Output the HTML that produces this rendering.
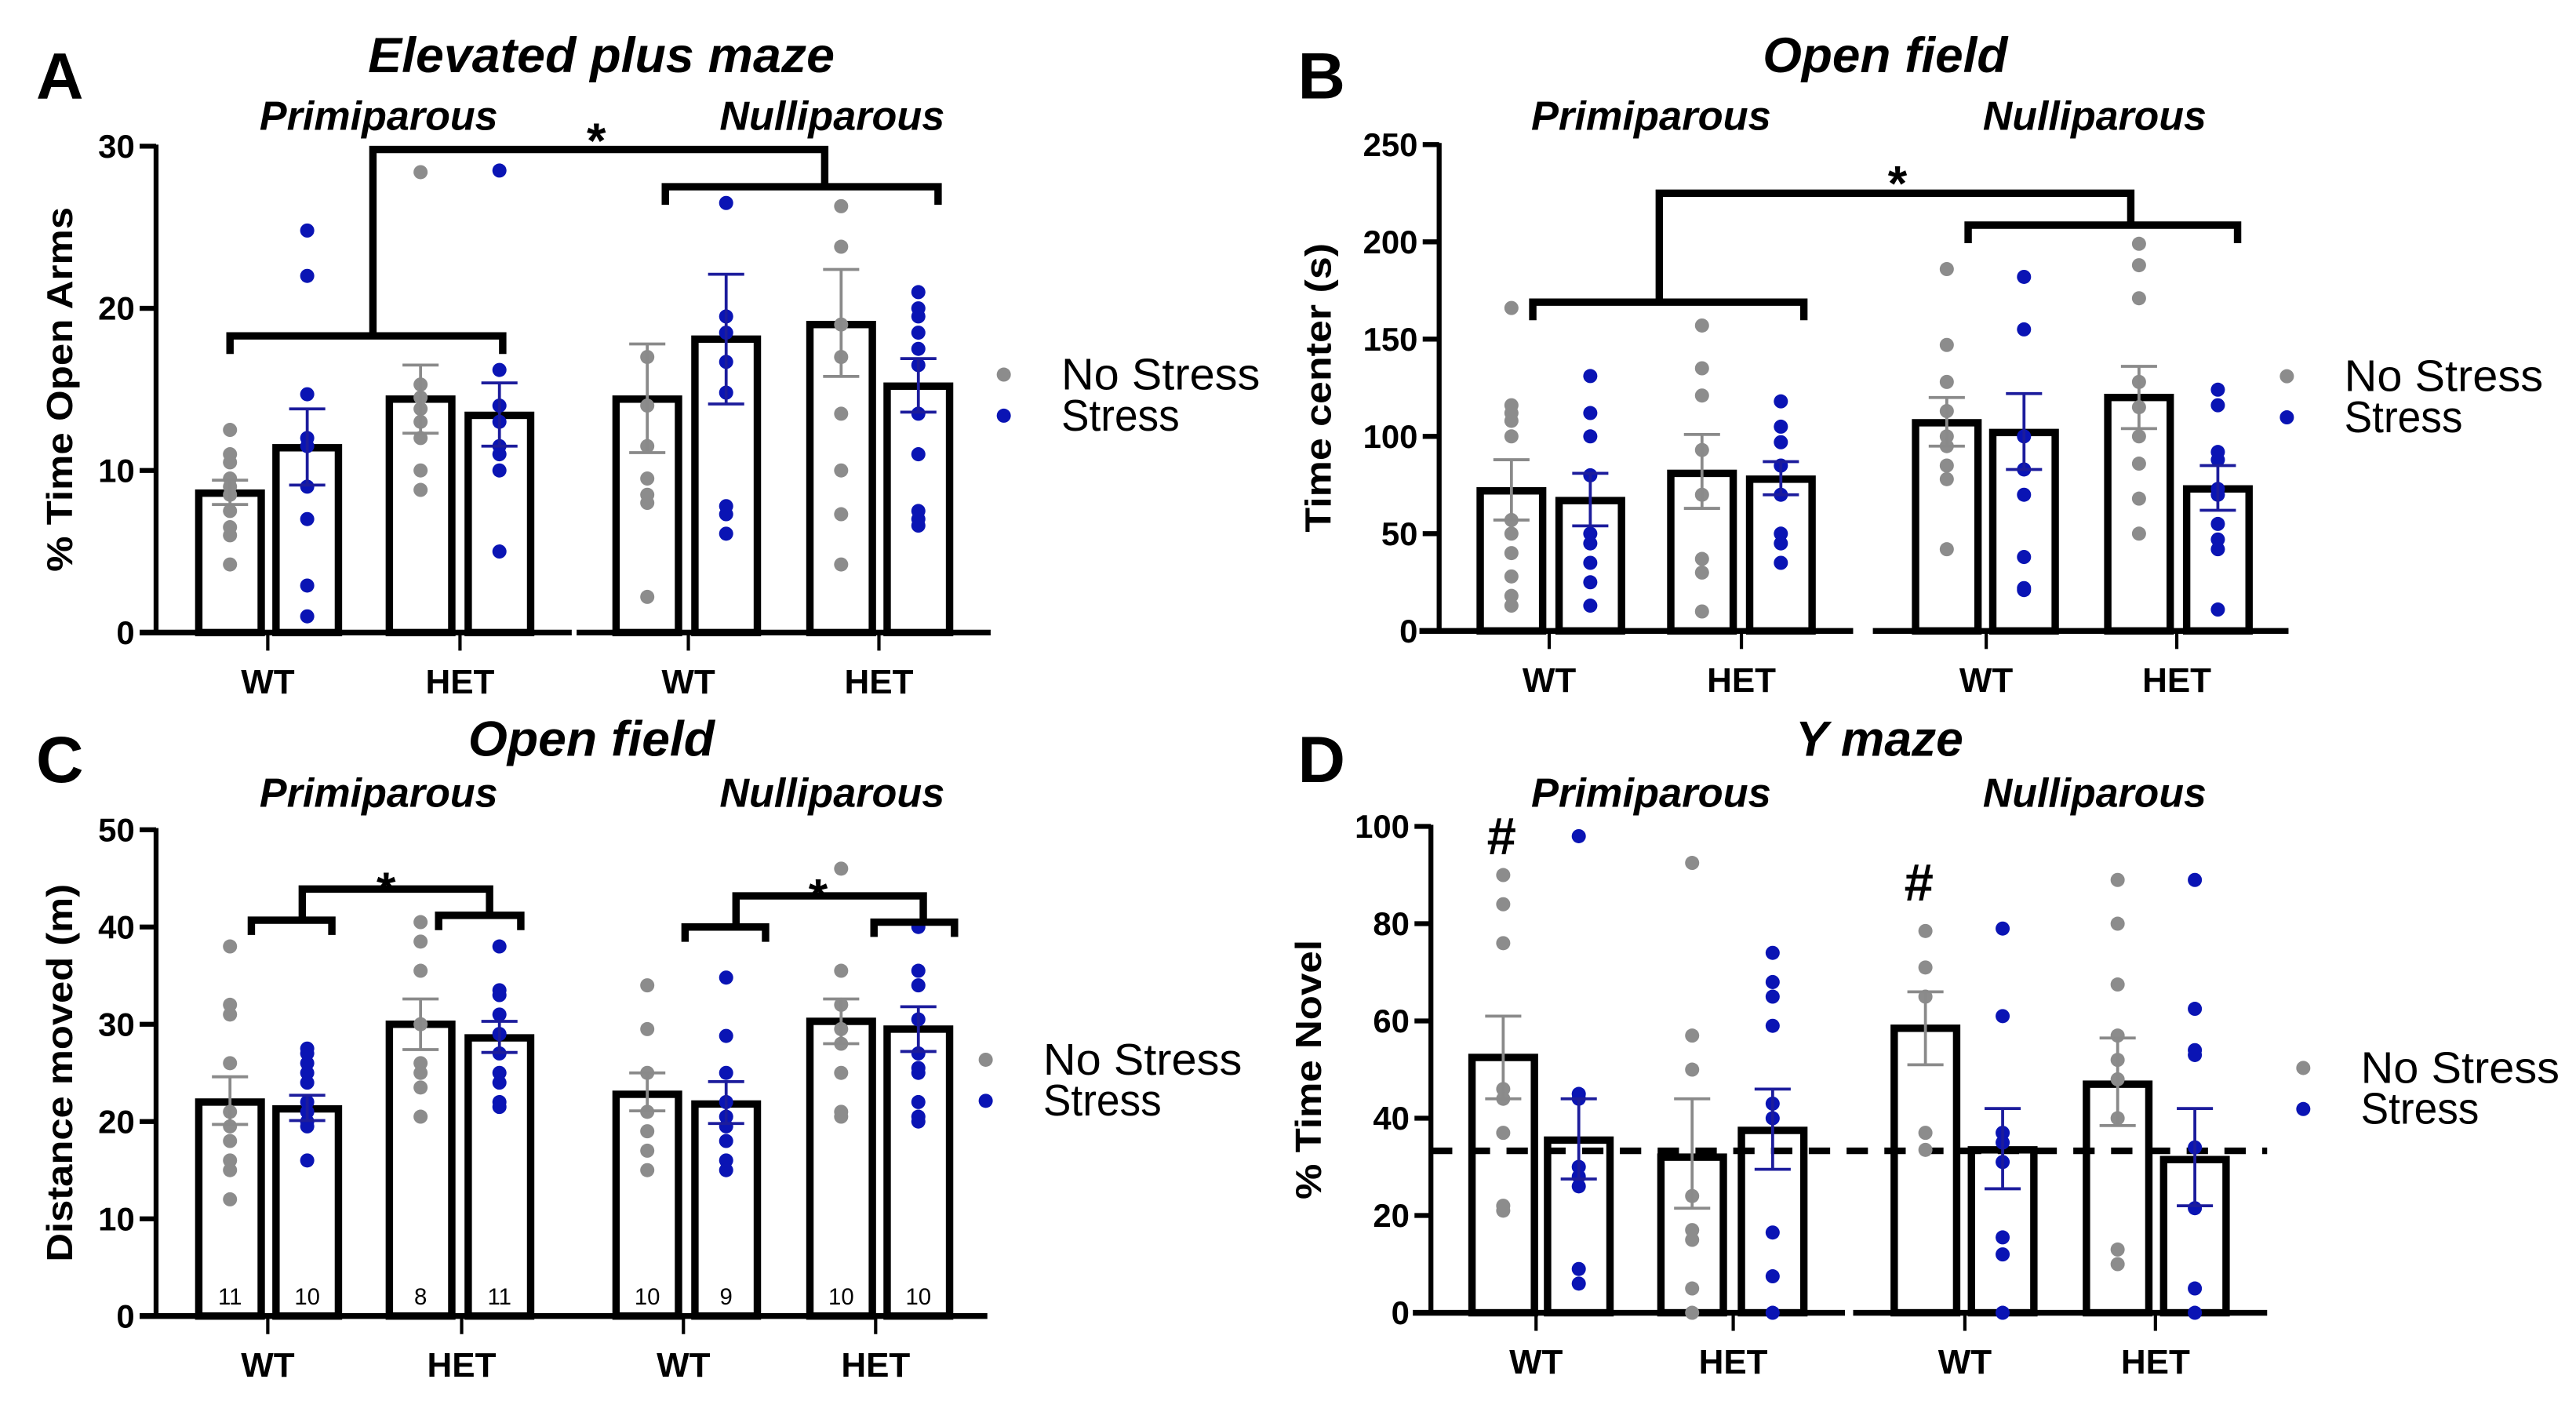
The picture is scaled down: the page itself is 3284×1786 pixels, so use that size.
<!DOCTYPE html>
<html><head><meta charset="utf-8"><title>Behavior panels</title>
<style>
html,body{margin:0;padding:0;background:#fff;}
svg{display:block;}
text{font-family:"Liberation Sans",Arial,sans-serif;}
</style></head>
<body>
<svg id="fig" xmlns="http://www.w3.org/2000/svg" width="3284" height="1786" viewBox="0 0 1568 852.7" preserveAspectRatio="none"></svg>
<script>
// ---------- data ----------
const groups = ["WT","HET","WT","HET"];
const conditions = ["No Stress","Stress"];
// Panel A: Elevated plus maze (% time open arms)
const aMeans = [8.6, 11.4, 14.4, 13.4, 14.4, 18.1, 19.0, 15.2];
const aErrLo = [7.9, 9.1, 12.3, 11.5, 11.1, 14.1, 15.8, 13.6];
const aErrHi = [9.4, 13.8, 16.5, 15.4, 17.8, 22.1, 22.4, 16.9];
const aDots = [
 [12.5,11,10.5,9.5,9,8.5,7.5,6.5,6,4.2],
 [24.8,22,14.7,12,11.5,9,7,2.9,1],
 [28.4,15.3,14.5,13.8,13,12,10,8.8],
 [28.5,16.2,14,13,11.5,11,10,5],
 [17,14,11.5,9.5,8.5,8,2.2],
 [26.5,19.5,18.5,16.7,14.8,7.8,7.3,6.1],
 [26.3,23.8,19,17,13.5,10,7.3,4.2],
 [21,20,19.5,18.5,17.5,16.5,13.5,11,7.5,7,6.6]];
const aTicks = [0,10,20,30];
// Panel B: Open field time center (s)
const bMeans = [72, 67, 81, 78, 107, 102, 120, 73];
const bErrLo = [57, 54, 63, 70, 95, 83, 104, 62];
const bErrHi = [88, 81, 101, 87, 120, 122, 136, 85];
const bDots = [
 [166,116,112,108,100,57,50,40,28,18,13],
 [131,112,100,80,50,45,35,25,13],
 [157,135,121,93,70,37,30,10],
 [118,105,97,85,70,50,45,35],
 [186,147,128,113,100,95,85,78,42],
 [182,155,100,83,70,38,22,21],
 [199,188,171,128,115,100,86,68,50],
 [124,116,92,88,73,70,55,47,42,11]];
const bTicks = [0,50,100,150,200,250];
// Panel C: Open field distance moved (m)
const cMeans = [22, 21.3, 30, 28.6, 22.8, 21.8, 30.3, 29.5];
const cErrLo = [19.7, 20.1, 27.4, 27.1, 21.1, 19.8, 28, 27.2];
const cErrHi = [24.6, 22.7, 32.6, 30.3, 25, 24.1, 32.6, 31.8];
const cDots = [
 [38,32,31,26,21,19.5,18,16,15,12],
 [27.5,27,26,25,24,22,21,20,19.5,16],
 [40.5,38.5,35.5,30,26,25,23.5,20.5],
 [38,33.5,33,31,29,27,25,24,22,21.5],
 [34,29.5,25,21,19,17,15],
 [34.8,28.8,25,22,20.5,19.5,18,16,15],
 [46,35.5,32,29.5,28,25,21,20.5],
 [40,35.5,34,30.5,27,25.5,25,22,20.5,20]];
const cN = ["11","10","8","11","10","9","10","10"];
const cTicks = [0,10,20,30,40,50];
// Panel D: Y maze % time novel
const dMeans = [52.5, 35.5, 32, 37.5, 58.5, 33.5, 47, 31.5];
const dErrLo = [44, 27.5, 21.5, 29.5, 51, 25.5, 38.5, 22];
const dErrHi = [61, 44, 44, 46, 66, 42, 56.5, 42];
const dDots = [
 [90,84,76,46,44,37,22,21],
 [98,45,44,30,28,26,9,6],
 [92.5,57,50,24,17,15,5,0],
 [74,68,65,59,43,40,16.5,7.5,0],
 [78.5,71,65,37,33.5],
 [79,61,37,35,31,15.5,12,0],
 [89,80,67.5,57,52,48,40,13,10],
 [89,62.5,54,53,34,21.5,5,0]];
const dTicks = [0,20,40,60,80,100];
const dChance = 33.3;

// ---------- drawing ----------
const NS = "http://www.w3.org/2000/svg";
const svgRoot = document.getElementById("fig");
const GRAY = "#8c8c8c", BLUE = "#0a14b4";
function mk(tag, attrs, parent){
  const e = document.createElementNS(NS, tag);
  for (const k in attrs) e.setAttribute(k, attrs[k]);
  (parent||svgRoot).appendChild(e);
  return e;
}
function txt(s, attrs, parent){ const t = mk("text", attrs, parent); t.textContent = s; return t; }

function panel(cfg){
  const g = mk("g", {});
  
  
  const y = v => cfg.y0 - v * (cfg.y0 - cfg.yTop) / cfg.max;
  const L = txt(cfg.letter, {x:cfg.letterX, y:cfg.titleY+16, "font-size":40, "font-weight":"bold"}, g);
  
  
  const T = txt(cfg.title, {x:cfg.titleX, y:cfg.titleY, "font-size":30, "font-weight":"bold", "font-style":"italic", textLength:cfg.titleW, lengthAdjust:"spacingAndGlyphs"}, g);
  
  
  const p1 = txt("Primiparous", {x:cfg.subX[0], y:cfg.subY, "font-size":25, "font-weight":"bold", "font-style":"italic", textLength:cfg.subW[0], lengthAdjust:"spacingAndGlyphs"}, g);
  
  
  const p2 = txt("Nulliparous", {x:cfg.subX[1], y:cfg.subY, "font-size":25, "font-weight":"bold", "font-style":"italic", textLength:cfg.subW[1], lengthAdjust:"spacingAndGlyphs"}, g);
  
  
  const yc = (cfg.y0 + cfg.yTop)/2;
  const yt = txt(cfg.ylabel, {x:0, y:0, "font-size":22, "font-weight":"bold", "text-anchor":"middle", textLength:cfg.ylabW, lengthAdjust:"spacingAndGlyphs", transform:`translate(${cfg.ylabX},${yc}) rotate(-90)`}, g);
  
  
  const ax = mk("line", {x1:cfg.axX, y1:cfg.y0+1, x2:cfg.axX, y2:cfg.yTop-1, stroke:"#000","stroke-width":3}, g);
  
  
  cfg.ticks.forEach(t => {
    const tk = mk("line", {x1:cfg.axX-10, y1:y(t), x2:cfg.axX, y2:y(t), stroke:"#000","stroke-width":3}, g);
    
    
    const tl = txt(String(t), {x:cfg.axX-13, y:y(t)+7, "font-size":20, "font-weight":"bold", "text-anchor":"end"}, g);
    
    
  });
  cfg.xSeg.forEach(s => {
    const xl = mk("line", {x1:s[0], y1:cfg.y0, x2:s[1], y2:cfg.y0, stroke:"#000","stroke-width":3.5}, g);
    
    
  });
  cfg.means.forEach((m, i) => {
    const cx = cfg.bx[i], w = 38;
    const r = mk("rect", {x:cx-w/2, y:y(m), width:w, height:cfg.y0-y(m), fill:"#fff", stroke:"#000", "stroke-width":4.5}, g);
    
    
  });
  if (cfg.chance !== undefined) {
    const dl = mk("line", {x1:cfg.axX, y1:y(cfg.chance), x2:cfg.xSeg[1][1], y2:y(cfg.chance), stroke:"#000","stroke-width":4,"stroke-dasharray":"13 10"}, g);
    
    
  }
  cfg.dots.forEach((arr, i) => {
    const col = i%2 ? BLUE : GRAY;
    arr.forEach(v => {
      const c = mk("circle", {cx:cfg.bx[i], cy:y(v), r:4.3, fill:col}, g);
      
      
    });
    const ecol = i%2 ? "#1c1c9c" : "#8a8a8a";
    const eb = mk("path", {d:`M${cfg.bx[i]},${y(cfg.lo[i])}V${y(cfg.hi[i])}M${cfg.bx[i]-11},${y(cfg.lo[i])}h22M${cfg.bx[i]-11},${y(cfg.hi[i])}h22`, stroke:ecol, "stroke-width":1.8, fill:"none"}, g);
    
    
  });
  cfg.xt.forEach((x, i) => {
    const tm = mk("line", {x1:x, y1:cfg.y0, x2:x, y2:cfg.y0+11, stroke:"#000","stroke-width":2}, g);
    
    
    const xl = txt(groups[i], {x:x, y:cfg.y0+37, "font-size":21, "font-weight":"bold", "text-anchor":"middle"}, g);
    
    
  });
  if (cfg.n) cfg.n.forEach((n, i) => {
    const nl = txt(n, {x:cfg.bx[i], y:cfg.y0-7, "font-size":14, "text-anchor":"middle"}, g);
    
    
  });
  (cfg.brackets||[]).forEach(b => {
    const bp = mk("path", {d:b.d(y), stroke:"#000", "stroke-width":4.5, fill:"none"}, g);
    
    
  });
  (cfg.marks||[]).forEach(m => {
    const mt = txt(m[0], {x:m[1], y:m[2], "font-size":m[3], "font-weight":"bold", "text-anchor":"middle"}, g);
    
    
  });
  const lg = mk("g", {}, g);
  
  
  conditions.forEach((c, k) => {
    const ld = mk("circle", {cx:cfg.legX, cy:cfg.legY + k*25, r:4.3, fill:k ? BLUE : GRAY}, lg);
    
    
    const lt = txt(c, {x:cfg.legX+35, y:cfg.legY + k*25 + 9, "font-size":27, textLength: k ? 72 : 121, lengthAdjust:"spacingAndGlyphs"}, lg);
    
    
  });
}

function brk(x1, x2, yv, drop){ return y => `M${x1},${y(yv)+drop}V${y(yv)}H${x2}V${y(yv)+drop}`; }
function topBr(x1, x2, yv, yl, yr){ return y => `M${x1},${y(yl)}V${y(yv)}H${x2}V${y(yr)}`; }

const barsAC = [140,187,256,304,394,442,512,559];
panel({name:"panel-a-elevated-plus-maze", letter:"A", letterX:22, title:"Elevated plus maze", titleX:224, titleW:284, titleY:44,
  subX:[158,438], subW:[145,137], subY:79, ylabel:"% Time Open Arms", ylabX:44, ylabW:222,
  axX:95, y0:385, yTop:89, max:30, ticks:aTicks, xSeg:[[85,348],[351,603]], bx:barsAC, xt:[163,280,419,535],
  means:aMeans, lo:aErrLo, hi:aErrHi, dots:aDots, legX:611, legY:228,
  brackets:[{d:brk(140,306,18.3,11)},{d:brk(405,571,27.5,11)},{d:topBr(227,502,29.8,18.3,27.5)}],
  marks:[["*",363,96,30]]});
const barsB = [920,968,1036,1084,1185,1232,1302,1350];
panel({name:"panel-b-open-field-time-center", letter:"B", letterX:790, title:"Open field", titleX:1073, titleW:149, titleY:44,
  subX:[932,1207], subW:[146,136], subY:79, ylabel:"Time center (s)", ylabX:810, ylabW:176,
  axX:876, y0:384, yTop:88, max:250, ticks:bTicks, xSeg:[[864,1128],[1140,1393]], bx:barsB, xt:[943,1060,1209,1325],
  means:bMeans, lo:bErrLo, hi:bErrHi, dots:bDots, legX:1392, legY:229,
  brackets:[{d:brk(933,1098,169,11)},{d:brk(1198,1362,208.6,11)},{d:topBr(1010,1297,225,169,208.6)}],
  marks:[["*",1155,122,30]]});
panel({name:"panel-c-open-field-distance", letter:"C", letterX:22, title:"Open field", titleX:285, titleW:150, titleY:460,
  subX:[158,438], subW:[145,137], subY:491, ylabel:"Distance moved (m)", ylabX:44, ylabW:230,
  axX:95, y0:801, yTop:505, max:50, ticks:cTicks, xSeg:[[85,601]], bx:barsAC, xt:[163,281,416,533], n:cN,
  means:cMeans, lo:cErrLo, hi:cErrHi, dots:cDots, legX:600, legY:645,
  brackets:[{d:brk(153,202,40.7,9)},{d:brk(267,317,41.2,9)},{d:topBr(184,298,43.9,40.7,41.2)},
            {d:brk(417,466,40,9)},{d:brk(532,581,40.5,9)},{d:topBr(448,562,43.2,40,40.5)}],
  marks:[["*",235,552,30],["*",498,556,30]]});
const barsD = [915,961,1030,1079,1172,1219,1289,1336];
panel({name:"panel-d-y-maze", letter:"D", letterX:790, title:"Y maze", titleX:1093, titleW:102, titleY:460,
  subX:[932,1207], subW:[146,136], subY:491, ylabel:"% Time Novel", ylabX:804, ylabW:158,
  axX:871, y0:799, yTop:503, max:100, ticks:dTicks, xSeg:[[860,1123],[1128,1380]], bx:barsD, xt:[935,1055,1196,1312],
  means:dMeans, lo:dErrLo, hi:dErrHi, dots:dDots, legX:1402, legY:650, chance:dChance,
  marks:[["#",914,520,32],["#",1168,548,32]]});
</script>
</body></html>
